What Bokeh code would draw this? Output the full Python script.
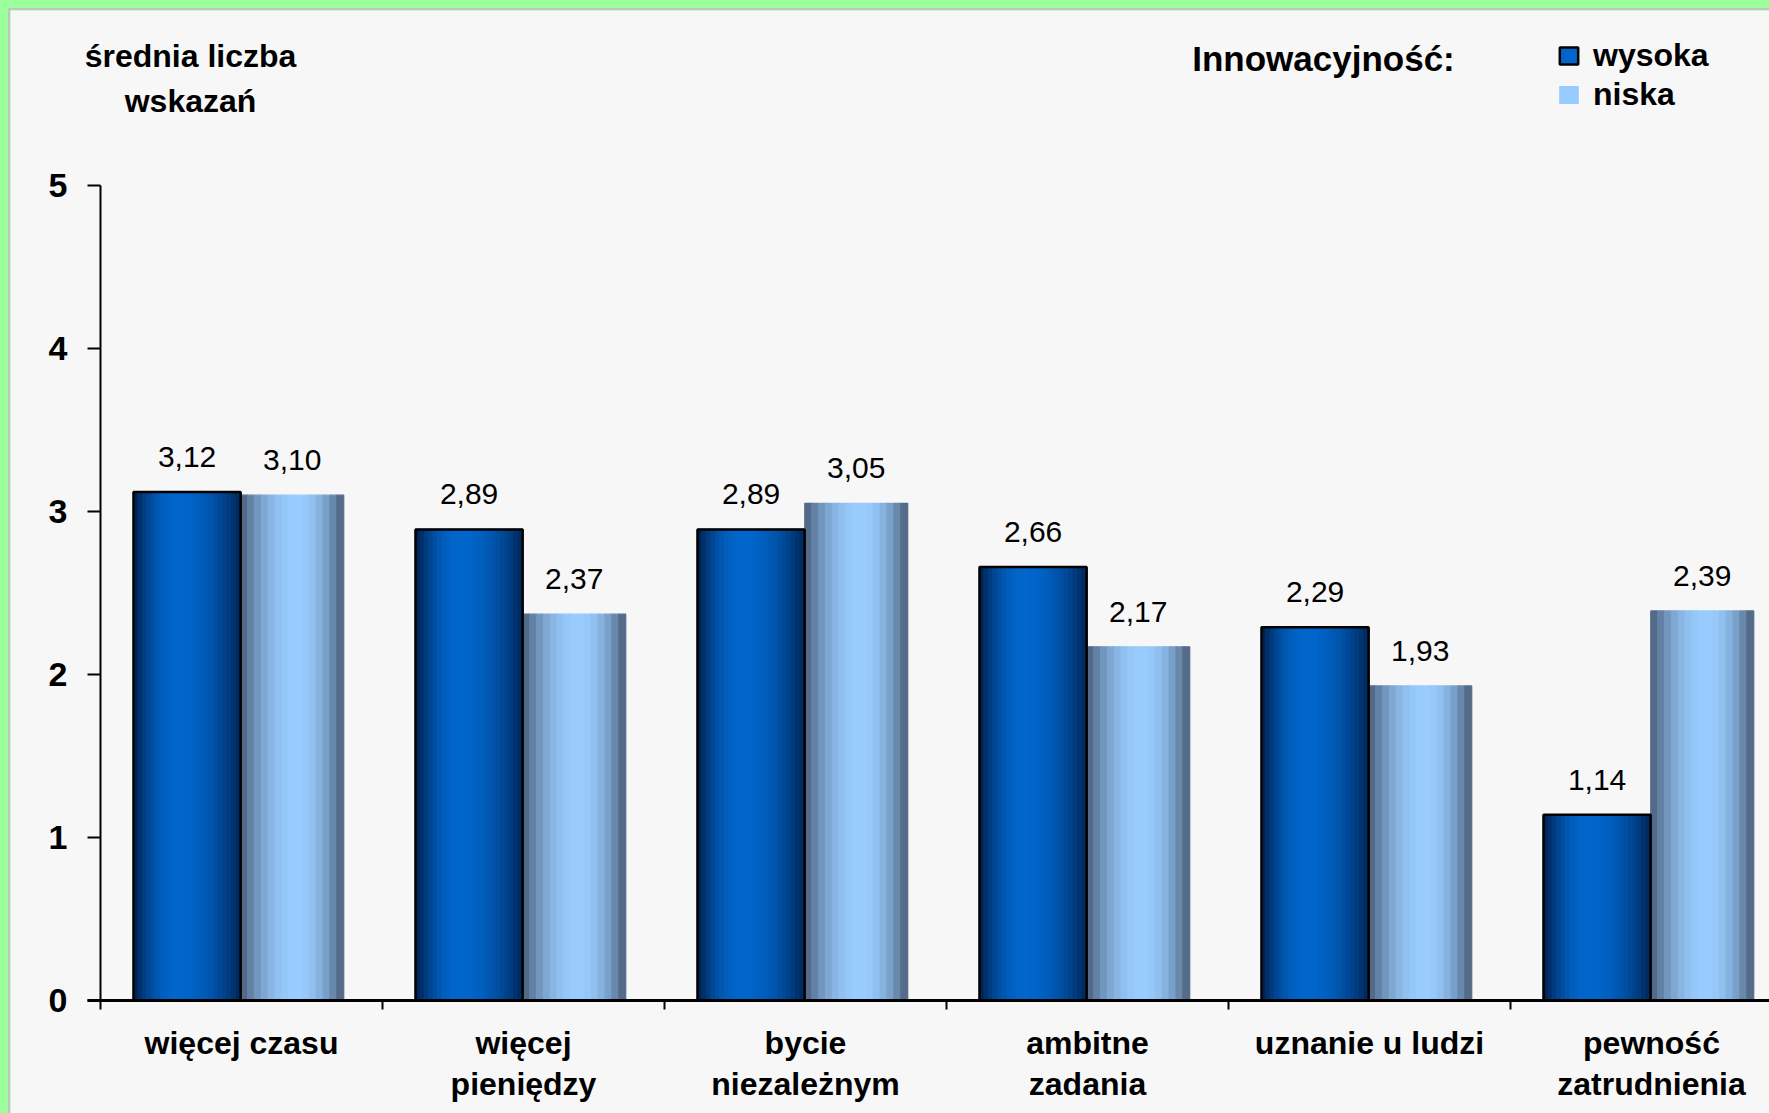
import numpy as np
from bokeh.plotting import figure
from bokeh.models import (ColumnDataSource, FixedTicker, Label, Legend, LegendItem,
                          Range1d, GlobalInlineStyleSheet, InlineStyleSheet)
from bokeh.transform import dodge
from bokeh.core.properties import value
from bokeh.embed import file_html
from bokeh.resources import INLINE

# ---- data ----
categories = ["więcej czasu", "więcej\npieniędzy", "bycie\nniezależnym",
              "ambitne\nzadania", "uznanie u ludzi", "pewność\nzatrudnienia"]
wysoka = [3.12, 2.89, 2.89, 2.66, 2.29, 1.14]
niska = [3.10, 2.37, 3.05, 2.17, 1.93, 2.39]
series_names = ["wysoka", "niska"]
y_ticks = [0, 1, 2, 3, 4, 5]
legend_title = "Innowacyjność:"
axis_title = ["średnia liczba", "wskazań"]

FONT = "Liberation Sans"

xs = [i + 0.5 for i in range(len(categories))]
fmt = lambda v: f"{v:.2f}".replace(".", ",")
src = ColumnDataSource(dict(x=xs, wysoka=wysoka, niska=niska,
                            lw=[fmt(v) for v in wysoka],
                            ln=[fmt(v) for v in niska]))

# layout (px)
PX_X = 282.0   # px per category
PX_Y = 163.0   # px per unit
X0, Y0 = 100, 1000   # page position of the axes origin
FL, FT = 10, 10      # page position of frame left / top
FW, FH = 1759, 1103
x_start = -(X0 - FL) / PX_X
y_end = (Y0 - FT) / PX_Y

p = figure(frame_width=FW, frame_height=FH,
           x_range=Range1d(x_start, x_start + FW / PX_X),
           y_range=Range1d(y_end - FH / PX_Y, y_end),
           output_backend="svg", toolbar_location=None,
           min_border_left=0, min_border_right=0, min_border_top=0, min_border_bottom=0,
           background_fill_color="#f7f7f7", border_fill_color="#f7f7f7",
           outline_line_color=None)
p.xgrid.visible = False
p.ygrid.visible = False

css = """
html { background: #99ff99 !important; overflow: hidden !important; }
body { margin: 8px 0 0 8px !important; padding: 0 !important; overflow: hidden !important;
       border-top: 2px solid #c4c4c4; border-left: 2px solid #c4c4c4; background: transparent !important; }
"""
p.stylesheets = [GlobalInlineStyleSheet(css=css),
                 InlineStyleSheet(css="text { letter-spacing: 3px; }")]

W_OFF, W_W = -0.193, 0.38
N_OFF, N_W = 0.18, 0.365


def mix(a, b, s):
    return "#%02x%02x%02x" % tuple(int(round(a[i] + (b[i] - a[i]) * s)) for i in range(3))


def stripes(col, off, width, n, edge_l, peak, edge_r, peak_t):
    rends = []
    for k in range(n):
        t = (k + 0.5) / n
        if t < peak_t:
            f = t / peak_t
            edge = edge_l
        else:
            f = (1 - t) / (1 - peak_t)
            edge = edge_r
        s = 1 - (1 - f) ** 2
        c = mix(edge, peak, s)
        r = p.vbar(x=dodge("x", off + (t - 0.5) * width, range=p.x_range), top=col, bottom=0,
                   width=width / n, source=src, fill_color=c, line_color=c, line_width=1.2)
        rends.append(r)
    return rends


w_r = stripes("wysoka", W_OFF, W_W, 24, (0, 28, 70), (0, 102, 204), (0, 38, 88), 0.42)
n_r = stripes("niska", N_OFF, N_W, 15, (72, 92, 120), (153, 204, 255), (72, 92, 118), 0.55)

w_out = p.vbar(x=dodge("x", W_OFF, range=p.x_range), top="wysoka", bottom=0, width=W_W,
               source=src, fill_color=None, line_color="black", line_width=2.5)

# value labels
for col, lab, off in (("wysoka", "lw", W_OFF), ("niska", "ln", N_OFF)):
    p.text(x=dodge("x", off, range=p.x_range), y=col, text=lab, source=src,
           y_offset=-35, text_align="center", text_baseline="alphabetic",
           text_font=value(FONT), text_font_size="30px", text_color="black")

# y axis (fixed at x = 0)
ya = p.yaxis[0]
ya.fixed_location = 0
ya.ticker = FixedTicker(ticks=y_ticks, minor_ticks=[])
ya.bounds = (0, 5)
ya.axis_line_width = 2
ya.axis_line_color = "black"
ya.major_tick_out = 13
ya.major_tick_in = 0
ya.major_tick_line_width = 2
ya.major_tick_line_color = "black"
ya.minor_tick_line_color = None
ya.major_label_standoff = 20
ya.major_label_text_font = FONT
ya.major_label_text_font_size = "34px"
ya.major_label_text_font_style = "bold"
ya.major_label_text_color = "black"

# x axis (fixed at y = 0)
xa = p.xaxis[0]
xa.fixed_location = 0
xa.ticker = FixedTicker(ticks=xs, minor_ticks=list(range(len(categories) + 1)))
xa.bounds = (-13 / PX_X, len(categories))
xa.major_label_overrides = {x: c for x, c in zip(xs, categories)}
xa.axis_line_width = 3
xa.axis_line_color = "black"
xa.major_tick_out = 0
xa.major_tick_in = 0
xa.major_tick_line_color = None
xa.minor_tick_out = 9
xa.minor_tick_in = 0
xa.minor_tick_line_width = 2
xa.minor_tick_line_color = "black"
xa.major_label_standoff = 15
xa.major_label_text_font = FONT
xa.major_label_text_font_size = "32px"
xa.major_label_text_font_style = "bold"
xa.major_label_text_color = "black"
xa.major_label_text_line_height = 1.15

# axis title (top left)
for txt, py in zip(axis_title, (55, 100)):
    p.add_layout(Label(x=(190 - X0) / PX_X, y=(Y0 - py) / PX_Y, text=txt,
                       text_align="center", text_baseline="alphabetic",
                       text_font=FONT, text_font_size="32px", text_font_style="bold",
                       text_color="black"))

# legend title
p.add_layout(Label(x=(1323 - X0) / PX_X, y=(Y0 - 58) / PX_Y, text=legend_title,
                   text_align="center", text_baseline="alphabetic",
                   text_font=FONT, text_font_size="35px", text_font_style="bold",
                   text_color="black"))

legend = Legend(items=[LegendItem(label=series_names[0], renderers=[w_r[10], w_out]),
                       LegendItem(label=series_names[1], renderers=[n_r[7]])],
                location=(1557 - FL, 887 + (FT + FH - Y0)), orientation="vertical",
                glyph_width=23, glyph_height=21, label_standoff=13, spacing=2,
                padding=0, margin=0, background_fill_alpha=0, border_line_color=None,
                label_text_font=FONT, label_text_font_size="32px",
                label_text_font_style="bold", label_text_color="black")
p.add_layout(legend, "center")

open("out.html", "w").write(file_html(p, INLINE))
